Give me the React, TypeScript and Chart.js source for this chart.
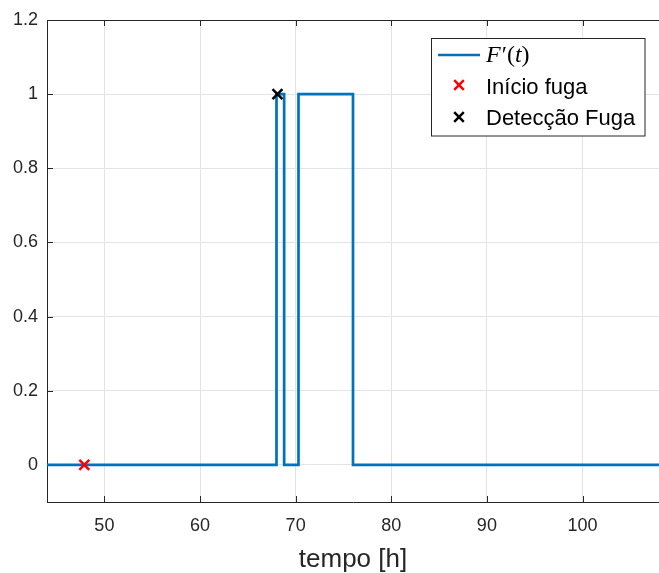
import React, { useEffect, useRef } from "react";
import { Chart, registerables } from "chart.js";

Chart.register(...registerables);

// Step signal F'(t): time [h] and value
const signalTime = [44, 68.0, 68.0, 68.8, 68.8, 70.3, 70.3, 76.0, 76.0, 108];
const signalValue = [0, 0, 1, 1, 0, 0, 1, 1, 0, 0];
// Markers
const leakStart = { t: 47.9, v: 0 };
const leakDetect = { t: 68.1, v: 1 };
// Axes
const xTicks = [50, 60, 70, 80, 90, 100];
const yTicks = [0, 0.2, 0.4, 0.6, 0.8, 1, 1.2];
const xLimits = [44, 108];
const yLimits = [-0.1, 1.2];
const xLabel = "tempo [h]";
const legendLabels = ["Início fuga", "Detecção Fuga"];

const BLUE = "#0072BD";
const AXIS = "#262626";
const GRID = "#e3e3e3";

export default function App() {
  const ref = useRef<HTMLCanvasElement | null>(null);

  useEffect(() => {
    const canvas = ref.current;
    if (!canvas) return;

    const decorPlugin = {
      id: "decor",
      beforeDatasetsDraw(chart: any) {
        const ctx = chart.ctx;
        const { left, right, top, bottom } = chart.chartArea;
        const xs = chart.scales.x;
        const ys = chart.scales.y;
        ctx.save();
        ctx.strokeStyle = AXIS;
        ctx.lineWidth = 1;
        // top border
        ctx.beginPath();
        ctx.moveTo(left, top + 0.5);
        ctx.lineTo(right, top + 0.5);
        ctx.stroke();
        // inward ticks
        const tl = 6;
        ctx.beginPath();
        xTicks.forEach((t) => {
          const px = Math.round(xs.getPixelForValue(t)) + 0.5;
          ctx.moveTo(px, bottom);
          ctx.lineTo(px, bottom - tl);
          ctx.moveTo(px, top);
          ctx.lineTo(px, top + tl);
        });
        yTicks.forEach((t) => {
          const py = Math.round(ys.getPixelForValue(t)) + 0.5;
          ctx.moveTo(left, py);
          ctx.lineTo(left + tl, py);
        });
        ctx.stroke();
        ctx.restore();
      },
      afterDraw(chart: any) {
        const ctx = chart.ctx;
        const { left, right } = chart.chartArea;
        ctx.save();
        // x-axis title
        ctx.fillStyle = AXIS;
        ctx.font = "26px 'Liberation Sans', Arial, sans-serif";
        ctx.textAlign = "center";
        ctx.textBaseline = "alphabetic";
        ctx.fillText(xLabel, (left + right) / 2, 567);

        // legend box
        const bx = 431.5, by = 38.5, bw = 213.5, bh = 97.5;
        ctx.fillStyle = "#ffffff";
        ctx.fillRect(bx, by, bw, bh);
        ctx.strokeStyle = AXIS;
        ctx.lineWidth = 1;
        ctx.strokeRect(bx, by, bw, bh);

        // row 1: line sample + F'(t)
        ctx.strokeStyle = BLUE;
        ctx.lineWidth = 2.5;
        ctx.beginPath();
        ctx.moveTo(438, 55);
        ctx.lineTo(480, 55);
        ctx.stroke();

        ctx.fillStyle = "#000000";
        ctx.textAlign = "left";
        let x = 486;
        const by1 = 62;
        const serifIt = "italic 24px 'Liberation Serif', 'DejaVu Serif', serif";
        const serif = "24px 'Liberation Serif', 'DejaVu Serif', serif";
        const parts: [string, string][] = [
          ["F", serifIt],
          ["\u2032", serif],
          ["(", serif],
          ["t", serifIt],
          [")", serif],
        ];
        parts.forEach(([s, f]) => {
          ctx.font = f;
          ctx.fillText(s, x, by1);
          x += ctx.measureText(s).width + (s === "F" ? 1 : 0);
        });

        // markers
        const drawX = (cx: number, cy: number, color: string) => {
          ctx.strokeStyle = color;
          ctx.lineWidth = 2.5;
          const r = 4.8;
          ctx.beginPath();
          ctx.moveTo(cx - r, cy - r);
          ctx.lineTo(cx + r, cy + r);
          ctx.moveTo(cx + r, cy - r);
          ctx.lineTo(cx - r, cy + r);
          ctx.stroke();
        };
        drawX(459, 85, "#ff0000");
        drawX(459, 117, "#000000");

        ctx.fillStyle = "#000000";
        ctx.font = "22px 'Liberation Sans', Arial, sans-serif";
        ctx.fillText(legendLabels[0], 486, 94);
        ctx.fillText(legendLabels[1], 486, 125);
        ctx.restore();
      },
    };

    const chart = new Chart(canvas, {
      type: "line",
      data: {
        datasets: [
          {
            label: "F'(t)",
            data: signalTime.map((t, i) => ({ x: t, y: signalValue[i] })),
            borderColor: BLUE,
            borderWidth: 2.7,
            pointRadius: 0,
            tension: 0,
            fill: false,
            order: 3,
          },
          {
            label: legendLabels[0],
            data: [{ x: leakStart.t, y: leakStart.v }],
            showLine: false,
            pointStyle: "crossRot",
            pointRadius: 7,
            borderColor: "#ff0000",
            backgroundColor: "#ff0000",
            pointBorderWidth: 2.5,
            order: 2,
          },
          {
            label: legendLabels[1],
            data: [{ x: leakDetect.t, y: leakDetect.v }],
            showLine: false,
            pointStyle: "crossRot",
            pointRadius: 7,
            borderColor: "#000000",
            backgroundColor: "#000000",
            pointBorderWidth: 2.5,
            order: 1,
          },
        ],
      },
      options: {
        animation: false,
        responsive: false,
        devicePixelRatio: 1,
        clip: false as any,
        layout: { autoPadding: false, padding: { top: 20, right: 0, bottom: 0, left: 0 } },
        plugins: {
          legend: { display: false },
          tooltip: { enabled: false },
        },
        scales: {
          x: {
            type: "linear",
            min: xLimits[0],
            max: xLimits[1],
            afterFit: (s: any) => {
              s.height = 71;
              s.paddingLeft = 0;
              s.paddingRight = 0;
            },
            afterBuildTicks: (s: any) => {
              s.ticks = xTicks.map((v) => ({ value: v }));
            },
            ticks: {
              callback: (v: any) => String(v),
              font: { family: "'Liberation Sans', Arial, sans-serif", size: 18 },
              color: AXIS,
              padding: 13,
              maxRotation: 0,
              autoSkip: false,
            },
            grid: { color: GRID, drawTicks: false, lineWidth: 1 },
            border: { color: AXIS, width: 1 },
          },
          y: {
            type: "linear",
            min: yLimits[0],
            max: yLimits[1],
            afterFit: (s: any) => {
              s.width = 47;
              s.paddingTop = 0;
              s.paddingBottom = 0;
            },
            afterBuildTicks: (s: any) => {
              s.ticks = yTicks.map((v) => ({ value: v }));
            },
            ticks: {
              callback: (v: any) => String(Math.round(v * 10) / 10),
              font: { family: "'Liberation Sans', Arial, sans-serif", size: 18 },
              color: AXIS,
              padding: 9,
              autoSkip: false,
            },
            grid: { color: GRID, drawTicks: false, lineWidth: 1 },
            border: { color: AXIS, width: 1 },
          },
        },
      },
      plugins: [decorPlugin],
    });

    return () => {
      chart.destroy();
    };
  }, []);

  return (
    <div style={{ position: "absolute", left: 0, top: 0, width: 659, height: 573, background: "#ffffff" }}>
      <canvas ref={ref} width={659} height={573} style={{ display: "block" }} />
    </div>
  );
}
